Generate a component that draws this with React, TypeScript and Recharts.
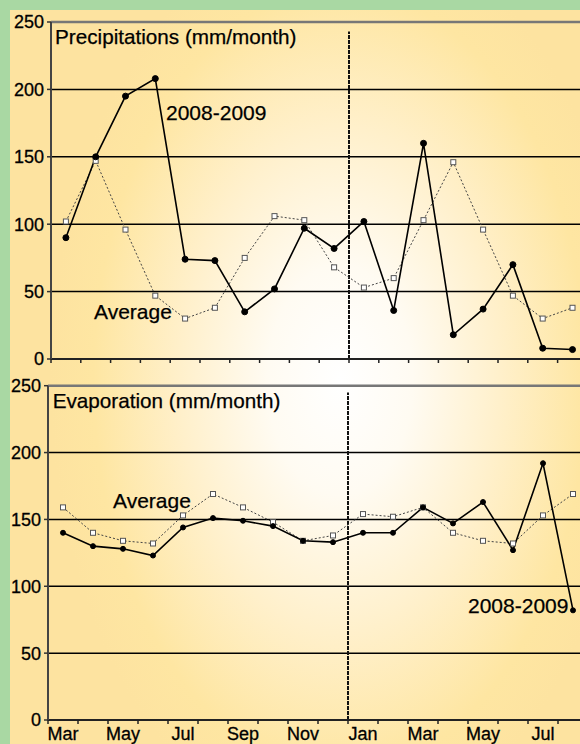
import React from 'react';
import { LineChart, Line, XAxis, YAxis, ReferenceLine } from 'recharts';

// months from March 2008 to August 2009
const MONTHS = ['Mar', 'Apr', 'May', 'Jun', 'Jul', 'Aug', 'Sep', 'Oct', 'Nov', 'Dec', 'Jan', 'Feb', 'Mar', 'Apr', 'May', 'Jun', 'Jul', 'Aug'];

const RAIN_2008 = [90, 150, 195, 208, 74, 73, 35, 52, 97, 82, 102, 36, 160, 18, 37, 70, 8, 7];
const RAIN_AVG = [102, 147, 96, 47, 30, 38, 75, 106, 103, 68, 53, 60, 103, 146, 96, 47, 30, 38];

const EVAP_2008 = [140, 130, 128, 123, 144, 151, 149, 145, 134, 133, 140, 140, 159, 147, 163, 127, 192, 82];
const EVAP_AVG = [159, 140, 134, 132, 153, 169, 159, 148, 134, 138, 154, 152, 159, 140, 134, 132, 153, 169];

const Y_TICKS = [0, 50, 100, 150, 200, 250];
const GRID_VALUES = [50, 100, 150, 200];
const YEAR_SPLIT = 10; // boundary before Jan 2009

const rainData = MONTHS.map((m, i) => ({ x: i + 0.5, month: m, rain: RAIN_2008[i], avg: RAIN_AVG[i] }));
const evapData = MONTHS.map((m, i) => ({ x: i + 0.5, month: m, evap: EVAP_2008[i], avg: EVAP_AVG[i] }));

const BOUNDARY_TICKS = MONTHS.map((_, i) => i).concat([MONTHS.length]);
const LABEL_TICKS = MONTHS.map((_, i) => i + 0.5).filter((_, i) => i % 2 === 0);
const BOTTOM_TICKS = [...BOUNDARY_TICKS, ...LABEL_TICKS].sort((a, b) => a - b);

const FONT = '"Liberation Sans", Arial, sans-serif';

const makeTick = (labels: boolean) => (props: any) => {
  const { x, y, payload } = props;
  const v = payload.value;
  if (Number.isInteger(v)) {
    return <line x1={x} x2={x} y1={y} y2={y + 4} stroke="#222" strokeWidth={1.5} />;
  }
  if (!labels) return <g />;
  return (
    <text x={x} y={y + 19.5} textAnchor="middle" fontSize={18} fill="#000" stroke="#000" strokeWidth={0.3} fontFamily={FONT}>
      {MONTHS[Math.floor(v)]}
    </text>
  );
};

const squareDot = (props: any) => {
  const { cx, cy, index } = props;
  return <rect key={`sq-${index}`} x={cx - 2.5} y={cy - 2.5} width={5} height={5} fill="#fff" stroke="#555" strokeWidth={1} />;
};

function Panel({ data, dataKey, width, height, margin, yWidth, xHeight, ticks, labels, dotR, splitTop }: any) {
  return (
    <LineChart width={width} height={height} data={data} margin={margin}>
      <XAxis
        dataKey="x"
        type="number"
        domain={[0, MONTHS.length]}
        ticks={ticks}
        interval={0}
        tickLine={false}
        tickSize={0}
        tickMargin={0}
        height={xHeight}
        axisLine={{ stroke: '#222', strokeWidth: 2 }}
        tick={makeTick(labels)}
        allowDataOverflow
      />
      <YAxis
        type="number"
        domain={[0, 250]}
        ticks={Y_TICKS}
        interval={0}
        width={yWidth}
        tickSize={4}
        tickMargin={3}
        tickLine={{ stroke: '#333', strokeWidth: 1.5 }}
        axisLine={{ stroke: '#444', strokeWidth: 2 }}
        tick={{ fill: '#000', stroke: '#000', strokeWidth: 0.3, fontSize: 18, fontFamily: FONT }}
      />
      {GRID_VALUES.map((v) => (
        <ReferenceLine key={v} y={v} stroke="#000" strokeWidth={1.5} />
      ))}
      <ReferenceLine y={250} stroke="#777" strokeWidth={2.5} />
      <ReferenceLine
        segment={[{ x: YEAR_SPLIT, y: 0 }, { x: YEAR_SPLIT, y: splitTop }]}
        stroke="#111"
        strokeWidth={2}
        strokeDasharray="4 1"
      />
      <Line
        dataKey="avg"
        stroke="#444"
        strokeWidth={1}
        strokeDasharray="2 2"
        dot={squareDot}
        activeDot={false}
        isAnimationActive={false}
      />
      <Line
        dataKey={dataKey}
        stroke="#000"
        strokeWidth={1.6}
        dot={{ r: dotR, fill: '#000', stroke: '#000', strokeWidth: 1 }}
        activeDot={false}
        isAnimationActive={false}
      />
    </LineChart>
  );
}

export default function App() {
  return (
    <div
      style={{
        position: 'fixed',
        left: 0,
        top: 0,
        width: 580,
        height: 744,
        overflow: 'hidden',
        background: '#a9d8a3',
        fontFamily: FONT,
      }}
    >
      <div
        style={{
          position: 'absolute',
          left: 10,
          top: 10,
          right: 0,
          bottom: 0,
          background:
            'radial-gradient(ellipse 290px 460px at 330px 370px, #ffffff 0%, #fffbf2 25%, #fff0cb 55%, #fee6a2 85%, #fde3a0 100%)',
        }}
      />
      <div style={{ position: 'absolute', left: 0, top: 0 }}>
        <Panel
          data={rainData}
          dataKey="rain"
          width={600}
          height={370}
          margin={{ top: 22, right: 12.6, bottom: 0, left: 0 }}
          yWidth={51}
          xHeight={11}
          ticks={BOUNDARY_TICKS}
          labels={false}
          dotR={3}
          splitTop={243}
        />
      </div>
      <div style={{ position: 'absolute', left: 0, top: 370 }}>
        <Panel
          data={evapData}
          dataKey="evap"
          width={600}
          height={374}
          margin={{ top: 15.7, right: 12, bottom: 0, left: 0 }}
          yWidth={48}
          xHeight={24}
          ticks={BOTTOM_TICKS}
          labels={true}
          dotR={2.5}
          splitTop={245}
        />
      </div>
      <svg width={580} height={744} style={{ position: 'absolute', left: 0, top: 0, pointerEvents: 'none' }}>
        <g fontFamily={FONT} fill="#000" stroke="#000" strokeWidth={0.25}>
          <text x={55} y={43.5} fontSize={20.7}>Precipitations (mm/month)</text>
          <text x={166} y={120} fontSize={21}>2008-2009</text>
          <text x={94} y={318.5} fontSize={21}>Average</text>
          <text x={52.7} y={407.5} fontSize={20.7}>Evaporation (mm/month)</text>
          <text x={113} y={507.7} fontSize={21}>Average</text>
          <text x={468} y={613.3} fontSize={21}>2008-2009</text>
        </g>
      </svg>
    </div>
  );
}
